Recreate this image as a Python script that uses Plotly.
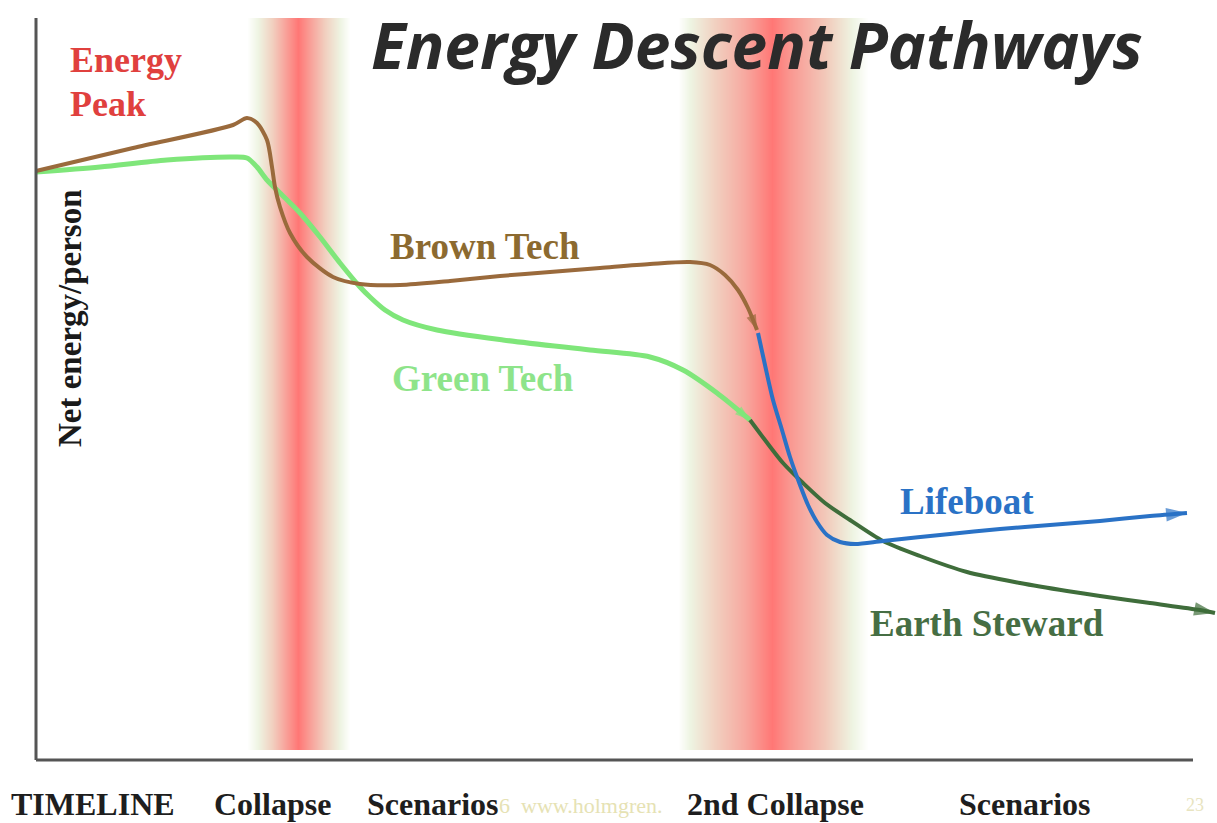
import plotly.graph_objects as go

# ---- data (time units on x, net energy per person on y) ----
brown_x = [0, 97, 197, 211, 221, 231, 236, 239, 244, 254, 271, 297, 324, 364, 414, 464, 514, 564, 614, 654, 674, 689, 702, 712, 721]
brown_y = [589, 612, 635, 642, 637, 620, 593, 573, 553, 527, 503, 483, 476, 475, 479, 484, 488, 492, 496, 498, 495, 485, 470, 452, 430]

green_x = [0, 64, 131, 197, 211, 221, 231, 244, 264, 284, 304, 324, 334, 349, 367, 401, 467, 554, 614, 647, 681, 714]
green_y = [588, 593, 600, 603, 602, 593, 580, 567, 547, 523, 497, 473, 463, 450, 440, 430, 420, 410, 403, 390, 367, 340]

steward_x = [714, 729, 747, 767, 789, 814, 847, 884, 931, 984, 1031, 1064, 1114, 1164, 1179]
steward_y = [340, 320, 297, 277, 257, 240, 219, 204, 188, 177, 169, 164, 157, 150, 147]

lifeboat_x = [722, 729, 737, 746, 754, 764, 772, 781, 791, 804, 819, 847, 914, 964, 1014, 1064, 1114, 1151]
lifeboat_y = [427, 395, 360, 330, 303, 275, 255, 238, 225, 218, 216, 219, 226, 231, 235, 239, 244, 247]

# collapse bands: x stops and intensity (0 = none, 1 = full collapse)
band_x = [-10, 211, 222, 236, 250, 262, 274, 289, 304, 314,
          642, 654, 679, 709, 736, 754, 789, 816, 832, 1190]
band_v = [0, 0, 0.2, 0.45, 0.75, 1.0, 0.75, 0.45, 0.2, 0,
          0, 0.2, 0.45, 0.7, 1.0, 0.8, 0.5, 0.2, 0, 0]
band_y_edges = [10, 376, 742]

series_labels = ["Brown Tech", "Green Tech", "Lifeboat", "Earth Steward"]
bottom_labels = ["TIMELINE", "Collapse", "Scenarios", "2nd Collapse", "Scenarios"]
bottom_label_px = [10, 213, 366, 686, 958]

SERIF = "Liberation Serif, Times New Roman, serif"

# plot-area geometry (pixels) used to place paper-referenced text
ML, MT, PW, PH = 32, 18, 1185, 746

fig = go.Figure()

fig.add_trace(go.Heatmap(
    x=band_x, y=band_y_edges, z=[band_v, band_v],
    zsmooth="best", zmin=0, zmax=1,
    colorscale=[[0, "#ffffff"], [0.2, "#eef4e2"], [0.45, "#f1d0c0"], [0.7, "#f7a89f"], [1, "#ff7775"]],
    showscale=False, hoverinfo="skip",
))


def arrow_line(x, y, color, width, head):
    n = len(x)
    return go.Scatter(
        x=x, y=y, mode="lines+markers",
        line=dict(color=color, width=width, shape="spline", smoothing=0.8),
        marker=dict(symbol="arrow", angleref="previous", size=[0] * (n - 1) + [head],
                    color=color, line=dict(width=0)),
        cliponaxis=False, hoverinfo="skip", showlegend=False,
    )


fig.add_trace(arrow_line(green_x, green_y, "#7fe67a", 5, 16))
fig.add_trace(arrow_line(brown_x, brown_y, "#9a6a3c", 4, 16))
fig.add_trace(arrow_line(steward_x, steward_y, "#3f6d3b", 4, 22))
fig.add_trace(arrow_line(lifeboat_x, lifeboat_y, "#2a72c6", 4, 22))

ann = []


def txt(x, y, s, color, size, family=SERIF, bold=True, ref="y", **kw):
    ann.append(dict(x=x, y=y, xref=("x" if ref == "y" else "paper"), yref=ref,
                    text=(f"<b>{s}</b>" if bold else s),
                    showarrow=False, xanchor=kw.pop("xanchor", "left"), yanchor=kw.pop("yanchor", "middle"),
                    font=dict(family=family, size=size, color=color), **kw))


def px_paper(px, py):
    return (px - ML) / PW, (MT + PH - py) / PH


txt(32, 700, "Energy", "#e0403e", 36)
txt(32, 656, "Peak", "#e0403e", 36)
txt(352, 514, series_labels[0], "#8c6a30", 37)
txt(354, 382, series_labels[1], "#8ee48a", 37)
txt(862, 259, series_labels[2], "#2a72c6", 37)
txt(832, 137, series_labels[3], "#466e44", 37)
txt(34, 442, "Net energy/person", "#1a1a1a", 33, xanchor="center", textangle=-90)

tx, ty = px_paper(370, 44)
txt(tx, ty, "<i>Energy Descent Pathways</i>", "#2b2b2b", 64, family="Open Sans, Lato, sans-serif",
    ref="paper", borderpad=0)

wx, wy = px_paper(498, 805)
txt(wx, wy, "6  www.holmgren.", "#e6e2b4", 22, bold=False, ref="paper", borderpad=0)
wx, wy = px_paper(1185, 805)
txt(wx, wy, "23", "#e8e4c0", 18, bold=False, ref="paper", borderpad=0)
for lab, lpx in zip(bottom_labels, bottom_label_px):
    bx, by = px_paper(lpx, 804)
    txt(bx, by, lab, "#1e1e1e", 32, ref="paper", borderpad=0)

shapes = [
    dict(type="line", xref="x", yref="y", x0=0, x1=0, y0=0, y1=742, line=dict(color="#555555", width=3)),
    dict(type="line", xref="x", yref="y", x0=0, x1=1157, y0=0, y1=0, line=dict(color="#555555", width=3)),
]

fig.update_layout(
    width=1217, height=823,
    margin=dict(l=ML, r=0, t=MT, b=823 - MT - PH),
    paper_bgcolor="white", plot_bgcolor="white",
    xaxis=dict(range=[-4, 1181], visible=False, fixedrange=True),
    yaxis=dict(range=[-4, 742], visible=False, fixedrange=True),
    annotations=ann, shapes=shapes, showlegend=False,
)

fig.write_html("out.html", config={"displayModeBar": False},
               post_script="document.body.style.margin='0';document.body.style.padding='0';")
